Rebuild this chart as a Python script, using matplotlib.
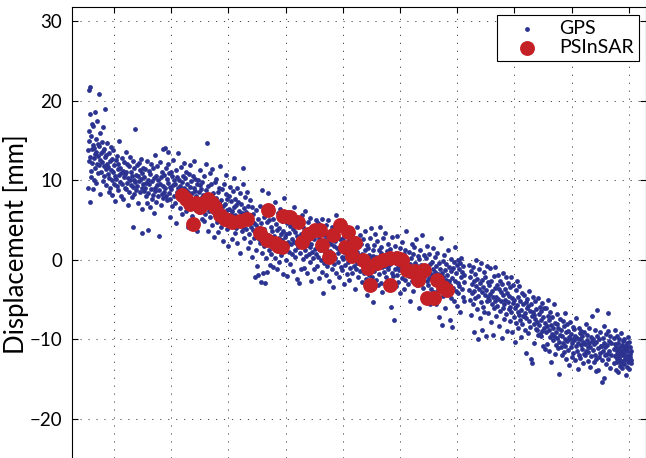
import numpy as np
import matplotlib
matplotlib.use("Agg")
import matplotlib.pyplot as plt

plt.rcParams['font.family'] = ['Lato', 'DejaVu Sans']

# GPS daily solutions: (day since start, displacement mm)
gps_seg1 = [(0,13.8),(2,9.1),(4,16.2),(5,21.4),(7,12.5),(9,14.9),(11,7.3),(12,18.4),(14,13.0),(16,21.8),(18,11.2),(20,15.6),(22,10.4),(24,13.9),(26,17.1),(28,12.2),(30,8.9),(32,14.4),(34,16.8),(36,12.8),(38,10.1),(41,14.1),(43,18.6),(45,13.3),(47,11.5),(50,15.2),(52,9.7),(54,13.6),(57,12.0),(59,17.5),(62,14.6),(64,10.9),(66,13.1),(69,11.9),(71,20.9),(73,14.3),(76,12.6),(78,8.3),(80,15.9),(83,13.4),(85,11.1),(88,14.8),(90,12.3),(93,9.9),(95,16.7),(98,13.7),(100,11.8),(103,14.0),(105,10.6),(108,12.9),(111,19.0),(113,11.4),(116,13.2),(118,9.4),(121,12.1),(124,14.7),(126,10.8),(129,11.7),(132,8.6),(134,13.5),(137,10.3),(140,12.4),(143,9.0),(145,11.3),(148,14.2),(151,10.0),(154,12.7),(156,8.2),(159,11.0),(162,13.8),(165,9.6),(168,11.9),(171,10.5),(174,7.4),(177,12.6),(180,10.2),(183,13.1),(186,9.3),(189,11.4),(192,8.8),(195,12.0),(198,10.7),(201,14.9),(204,9.8),(207,11.6),(210,8.1),(213,10.9),(216,12.8),(219,9.5),(222,11.2),(225,7.7),(228,10.4),(231,12.3),(234,9.1),(237,10.8),(240,13.6),(243,8.9),(246,11.0),(249,9.7),(252,12.1),(255,6.9),(258,10.3),(261,11.8),(264,8.6),(267,10.1),(270,12.9),(273,9.4),(276,11.1),(279,7.9),(282,10.6),(285,9.2),(287,4.1),(288,12.4),(291,10.0),(294,8.3),(297,11.5),(300,9.8),(303,16.4),(306,10.7),(309,8.8),(312,11.9),(315,9.3),(318,10.5),(321,7.2),(324,12.2),(327,9.9),(330,11.3),(333,8.5),(336,10.2),(339,12.7),(342,9.0),(345,3.4),(346,10.9),(348,6.4),(351,9.6),(354,11.6),(357,8.7),(360,10.4),(363,9.1)]
gps_seg2 = [(366,11.4),(369,8.0),(372,9.7),(375,12.5),(378,7.1),(381,10.1),(383,3.8),(386,8.4),(389,11.2),(392,9.5),(395,6.6),(398,10.8),(401,8.9),(404,12.0),(407,7.6),(410,9.9),(413,11.5),(416,8.2),(419,10.3),(422,5.9),(425,9.1),(428,13.2),(431,8.7),(434,10.6),(437,7.3),(440,9.4),(443,11.8),(446,8.1),(449,10.0),(452,3.0),(455,8.8),(458,12.3),(461,9.6),(464,6.9),(467,10.4),(470,8.3),(473,11.1),(476,7.8),(479,9.3),(482,13.9),(485,8.6),(488,10.7),(491,14.1),(494,9.0),(497,11.6),(500,8.0),(503,10.2),(506,7.5),(509,9.7),(510,13.6),(512,12.1),(515,8.4),(518,10.9),(521,5.4),(524,9.2),(527,7.7),(530,11.0),(533,8.9),(536,10.5),(539,6.8),(542,9.4),(545,12.6),(548,8.1),(551,10.0),(554,7.2),(557,9.6),(560,11.3),(563,4.6),(566,8.5),(569,10.4),(572,7.9),(575,9.1),(578,13.4),(581,8.3),(584,10.1),(587,6.5),(590,9.3),(593,11.7),(596,8.0),(599,9.8),(602,5.8),(605,10.6),(608,7.6),(611,9.0),(614,12.2),(617,8.2),(620,10.3),(623,6.1),(626,8.8),(629,11.0),(632,7.4),(635,9.5),(638,4.2),(641,8.6),(644,10.8),(647,7.1),(650,9.2),(653,11.9),(656,7.8),(659,9.9),(662,5.5),(665,8.4),(668,10.5),(671,6.9),(674,9.0),(677,12.4),(680,7.5),(683,8.7),(686,10.2),(689,6.3),(692,8.1),(695,9.6),(698,3.6),(701,7.7),(704,10.0),(707,8.5),(710,6.0),(713,9.4),(716,11.3),(719,7.3),(722,8.9),(725,5.2),(728,7.9)]
gps_seg3 = [(731,9.8),(734,6.4),(737,8.2),(740,4.9),(743,10.6),(746,7.0),(749,5.8),(752,8.8),(755,12.1),(758,6.6),(759,14.7),(762,7.9),(765,3.7),(768,9.3),(771,6.2),(774,8.0),(777,10.9),(780,5.4),(783,7.6),(786,9.5),(789,4.4),(792,7.1),(795,11.4),(798,6.0),(801,8.4),(804,2.9),(807,7.3),(810,9.8),(813,5.6),(816,7.8),(819,10.2),(822,4.8),(825,6.9),(828,8.6),(831,3.5),(834,7.2),(837,9.1),(840,5.3),(843,6.7),(846,11.8),(849,4.1),(852,7.5),(855,8.9),(858,5.9),(861,2.4),(864,6.8),(867,9.6),(870,4.6),(873,7.0),(876,5.5),(879,8.3),(882,10.7),(885,3.9),(888,6.3),(891,7.7),(894,1.8),(897,5.1),(900,8.1),(903,6.4),(906,4.3),(909,9.2),(912,5.8),(915,7.4),(918,2.6),(921,6.1),(924,8.7),(927,4.9),(930,6.6),(933,10.3),(936,3.4),(939,5.7),(942,7.6),(945,4.0),(948,6.9),(951,9.0),(954,2.1),(957,5.2),(960,7.3),(963,4.5),(966,6.2),(969,8.4),(972,0.9),(975,5.6),(978,7.0),(981,3.7),(984,5.9),(987,9.5),(989,11.6),(992,4.2),(995,6.5),(998,2.8),(1001,5.3),(1004,7.9),(1007,3.9),(1010,6.0),(1013,4.7),(1016,8.6),(1019,1.5),(1022,5.0),(1025,6.8),(1028,3.2),(1031,4.9),(1034,7.5),(1037,2.3),(1040,5.5),(1043,4.1),(1046,6.7),(1049,0.4),(1052,3.8),(1055,5.8),(1058,2.7),(1061,4.6),(1064,-2.2),(1067,3.5),(1070,6.3),(1073,1.2),(1076,4.4),(1079,-0.8),(1082,3.0),(1085,5.1),(1088,-1.9),(1091,2.6),(1094,4.0)]
gps_seg4 = [(1097,6.8),(1100,2.1),(1103,-2.8),(1106,4.6),(1109,0.9),(1112,8.8),(1115,3.3),(1118,-1.6),(1121,5.4),(1124,1.7),(1127,3.9),(1130,-2.9),(1133,6.1),(1136,2.4),(1139,0.2),(1142,4.8),(1145,-1.5),(1148,3.1),(1151,8.4),(1154,1.3),(1157,5.0),(1160,-0.6),(1163,2.8),(1166,4.2),(1169,0.7),(1172,6.6),(1175,2.0),(1178,3.6),(1181,-0.9),(1184,5.2),(1187,1.5),(1190,3.0),(1193,7.3),(1196,0.3),(1199,4.5),(1202,2.2),(1205,-1.2),(1208,3.8),(1211,5.9),(1214,1.1),(1217,2.7),(1220,4.0),(1223,-0.3),(1226,6.4),(1229,1.9),(1232,3.3),(1235,0.6),(1238,4.9),(1241,2.5),(1244,-1.8),(1247,3.6),(1250,7.8),(1253,1.4),(1256,2.9),(1259,5.5),(1262,0.0),(1265,3.2),(1268,1.7),(1271,4.6),(1274,-2.0),(1277,2.3),(1280,6.0),(1283,1.0),(1286,3.4),(1289,-0.5),(1292,4.3),(1295,2.0),(1298,5.8),(1301,0.8),(1304,2.6),(1307,3.9),(1310,-1.4),(1313,2.2),(1316,6.7),(1319,1.2),(1322,3.5),(1325,0.4),(1328,4.4),(1331,2.1),(1334,-2.4),(1337,3.0),(1340,5.1),(1343,1.6),(1346,-2.9),(1349,2.8),(1352,4.7),(1355,0.9),(1358,-1.2),(1361,3.3),(1364,1.8),(1367,5.6),(1370,0.1),(1373,2.5),(1376,4.1),(1379,-1.0),(1382,2.9),(1385,1.3),(1388,6.2),(1391,0.5),(1394,3.7),(1397,1.9),(1400,-1.7),(1403,2.4),(1406,4.8),(1409,0.7),(1412,3.1),(1415,-0.2),(1418,1.6),(1421,5.3),(1424,2.0),(1427,-2.6),(1430,3.4),(1433,1.0),(1436,4.2),(1439,0.3),(1442,2.6),(1445,-1.1),(1448,3.8),(1451,1.4),(1454,5.0),(1457,0.8)]
gps_seg5 = [(1460,3.5),(1463,-0.8),(1466,1.9),(1469,4.6),(1472,0.4),(1475,2.7),(1478,-2.3),(1481,1.2),(1484,3.9),(1487,0.0),(1490,2.2),(1493,5.2),(1496,-1.5),(1499,-4.2),(1502,1.6),(1505,3.1),(1508,-0.4),(1511,2.5),(1514,0.9),(1517,4.4),(1520,-1.9),(1523,1.4),(1526,3.0),(1529,-0.7),(1532,5.0),(1535,0.6),(1538,2.3),(1541,-2.7),(1544,1.1),(1547,3.6),(1550,0.2),(1553,2.0),(1556,-1.2),(1559,4.1),(1562,0.8),(1565,-3.4),(1568,1.7),(1571,3.3),(1574,-0.5),(1577,2.4),(1580,0.3),(1583,5.6),(1586,-1.6),(1589,1.5),(1592,2.9),(1595,-0.2),(1598,0.9),(1601,3.8),(1604,-2.2),(1607,1.2),(1610,2.6),(1613,-0.9),(1616,4.5),(1619,0.4),(1622,1.9),(1625,-1.3),(1628,2.7),(1631,0.1),(1634,-3.0),(1637,1.0),(1640,3.4),(1643,-0.6),(1646,2.1),(1649,0.5),(1652,-1.8),(1655,4.0),(1658,1.3),(1661,-0.3),(1664,2.5),(1667,-2.5),(1670,0.7),(1673,3.0),(1676,-1.0),(1679,1.6),(1682,0.0),(1685,3.8),(1688,-1.7),(1691,0.9),(1694,2.3),(1697,-0.8),(1700,1.4),(1703,-3.6),(1706,0.2),(1709,2.8),(1712,-1.1),(1715,1.0),(1718,4.2),(1721,-0.4),(1724,0.6),(1727,-2.1),(1730,1.8),(1733,-0.1),(1736,3.1),(1739,-1.4),(1742,0.4),(1745,2.0),(1748,-2.8),(1751,0.8),(1754,-0.5),(1757,2.6),(1760,-1.6),(1763,0.3),(1766,3.6),(1769,-0.9),(1772,1.2),(1775,-2.4),(1778,0.0),(1781,1.9),(1784,-4.4),(1787,-0.6),(1790,1.5),(1793,-1.9),(1796,0.6),(1799,2.8),(1802,-1.2),(1805,0.2),(1808,4.0),(1811,-2.2),(1814,-0.3),(1817,1.3),(1820,-5.3),(1823,0.5)]
gps_seg6 = [(1826,-1.4),(1829,1.9),(1832,-0.6),(1835,3.2),(1838,-2.5),(1841,0.4),(1844,-1.0),(1847,2.4),(1850,-3.1),(1853,0.0),(1856,1.3),(1859,-1.8),(1862,4.1),(1865,-0.4),(1868,0.9),(1871,-2.9),(1874,1.6),(1877,-0.9),(1880,-4.0),(1883,0.6),(1886,2.7),(1889,-1.5),(1892,0.2),(1895,-0.7),(1898,3.4),(1901,-2.2),(1904,-0.2),(1907,1.1),(1910,-3.5),(1913,-0.8),(1916,2.0),(1919,-1.2),(1922,0.5),(1925,-2.6),(1928,1.4),(1931,-0.5),(1934,-5.9),(1937,0.8),(1940,-1.6),(1943,2.9),(1946,-0.1),(1949,-2.0),(1952,-7.5),(1955,0.3),(1958,-1.1),(1961,1.7),(1964,-3.3),(1967,-0.4),(1970,0.9),(1973,-1.9),(1976,3.0),(1979,-0.9),(1982,-2.8),(1985,0.6),(1988,-1.3),(1991,1.5),(1994,-4.1),(1997,-0.6),(2000,0.4),(2003,-2.3),(2006,2.2),(2009,-1.0),(2012,-0.2),(2015,-3.6),(2018,0.7),(2021,-1.5),(2024,1.2),(2027,-2.5),(2030,-0.8),(2033,3.6),(2036,-1.8),(2039,0.0),(2042,-3.0),(2045,-1.2),(2048,1.0),(2051,-2.0),(2054,-0.5),(2057,-5.2),(2060,0.3),(2063,-1.6),(2066,2.0),(2069,-2.7),(2072,-0.9),(2075,0.8),(2078,-3.9),(2081,-1.3),(2084,1.6),(2087,-2.2),(2090,-0.4),(2093,-1.0),(2096,2.6),(2099,-3.2),(2102,-0.7),(2105,0.5),(2108,-2.4),(2111,-1.1),(2114,-6.0),(2117,0.1),(2120,-1.9),(2123,1.3),(2126,-2.9),(2129,-0.6),(2132,-1.5),(2135,3.1),(2138,-3.5),(2141,-0.8),(2144,0.6),(2147,-2.1),(2150,-1.3),(2153,-4.6),(2156,0.2),(2159,-1.7),(2162,-2.6),(2165,1.8),(2168,-0.9),(2171,-3.1),(2174,-1.4),(2177,0.7),(2180,-2.3),(2183,-5.5),(2186,-0.5),(2189,-1.8)]
gps_seg7 = [(2192,-3.6),(2195,-0.2),(2198,-2.4),(2201,1.5),(2204,-1.2),(2207,-4.0),(2210,-2.0),(2213,0.4),(2216,-3.0),(2219,-1.5),(2222,-5.6),(2225,-0.7),(2228,-2.6),(2231,0.9),(2234,-3.8),(2237,-1.8),(2240,-7.2),(2243,-0.4),(2246,-2.9),(2249,-1.1),(2252,2.8),(2255,-3.4),(2258,-8.2),(2261,-1.6),(2264,-0.1),(2267,-4.5),(2270,-2.2),(2273,0.6),(2276,-3.1),(2279,-1.3),(2282,-6.1),(2285,-2.5),(2288,-0.5),(2291,-3.7),(2294,-1.9),(2297,1.2),(2300,-4.3),(2303,-2.7),(2306,-0.9),(2309,-7.6),(2312,-3.2),(2315,-1.4),(2318,0.1),(2321,-4.8),(2324,-2.3),(2327,-8.4),(2330,-1.0),(2333,-3.5),(2336,-5.2),(2339,-0.3),(2342,-2.6),(2345,1.6),(2348,-3.9),(2351,-1.7),(2354,-5.8),(2357,-0.6),(2360,-2.9),(2363,0.0),(2366,-4.1),(2369,-1.2),(2372,-3.3),(2375,-0.4),(2378,-6.6),(2381,-2.1),(2384,0.3),(2387,-3.6),(2390,-1.5),(2393,-4.7),(2396,-0.8),(2399,-2.8),(2402,-5.1),(2404,-1.9),(2432,-0.6),(2435,-3.8),(2438,-5.0),(2441,-2.2),(2444,-6.9),(2447,-1.4),(2450,-4.2),(2453,-3.0),(2456,-0.9),(2459,-5.6),(2462,-2.6),(2465,-9.1),(2468,-3.9),(2471,-1.8),(2474,-4.8),(2477,0.0),(2480,-3.3),(2483,-6.2),(2486,-2.4),(2489,-10.0),(2492,-4.5),(2495,-1.2),(2498,-3.6),(2501,-7.3),(2504,-2.9),(2507,-5.3),(2510,-0.4),(2513,-4.0),(2516,-8.8),(2519,-2.5),(2522,-5.9),(2525,-3.4),(2528,-1.5),(2531,-6.5),(2534,-4.4),(2537,-2.1),(2540,-9.6),(2543,-3.8),(2546,-5.1),(2549,-0.8),(2552,-4.7),(2555,-2.8)]
gps_seg8 = [(2557,-6.7),(2560,-3.1),(2563,-5.0),(2566,-1.0),(2569,-4.3),(2572,-7.8),(2575,-2.6),(2578,-5.5),(2581,-3.9),(2584,-9.4),(2587,-4.7),(2590,-2.0),(2593,-6.1),(2596,-3.5),(2599,-5.2),(2602,-0.9),(2605,-4.6),(2608,-7.0),(2611,-3.2),(2614,-5.8),(2617,-1.9),(2620,-4.9),(2623,-8.3),(2626,-3.7),(2629,-6.4),(2632,-2.7),(2635,-5.1),(2638,-4.0),(2641,-9.8),(2644,-3.0),(2647,-6.0),(2650,-4.4),(2653,-1.6),(2656,-5.6),(2659,-7.4),(2662,-3.6),(2665,-5.0),(2668,-2.2),(2671,-6.8),(2674,-4.1),(2677,-8.9),(2680,-5.3),(2683,-2.9),(2686,-6.2),(2689,-4.5),(2692,-7.7),(2695,-3.4),(2698,-5.9),(2701,-2.1),(2704,-6.6),(2707,-4.8),(2710,-9.1),(2713,-5.4),(2716,-3.1),(2719,-7.2),(2722,-5.0),(2725,-10.3),(2728,-6.0),(2731,-3.8),(2734,-7.9),(2737,-5.7),(2740,-2.6),(2743,-6.5),(2746,-8.5),(2749,-4.7),(2752,-6.9),(2755,-3.3),(2758,-7.5),(2761,-5.2),(2764,-9.7),(2767,-6.3),(2770,-4.2),(2773,-8.1),(2776,-5.6),(2779,-7.0),(2782,-7.0),(2785,-4.4),(2788,-6.7),(2791,-8.8),(2794,-5.3),(2797,-11.7),(2800,-7.3),(2803,-4.9),(2806,-6.1),(2809,-9.2),(2812,-5.8),(2815,-7.7),(2818,-3.9),(2821,-6.4),(2824,-8.4),(2827,-12.4),(2830,-5.5),(2833,-7.1),(2836,-13.0),(2839,-6.6),(2842,-4.6),(2845,-8.0),(2848,-6.9),(2851,-10.5),(2854,-7.4),(2857,-5.2),(2860,-8.7),(2863,-6.2),(2866,-8.8),(2869,-7.8),(2872,-4.8),(2875,-9.4),(2878,-6.8),(2881,-8.2),(2884,-5.9),(2887,-9.3),(2890,-7.6),(2893,-9.6),(2896,-6.4),(2899,-8.9),(2902,-5.4),(2905,-10.8),(2908,-7.2),(2911,-8.5),(2914,-6.0),(2917,-11.2),(2920,-7.9)]
gps_seg9 = [(2923,-9.0),(2926,-6.1),(2929,-8.3),(2932,-10.6),(2935,-7.0),(2938,-5.0),(2941,-8.8),(2944,-11.4),(2947,-7.5),(2950,-9.7),(2953,-6.6),(2956,-8.2),(2959,-12.8),(2962,-9.3),(2965,-7.2),(2968,-10.1),(2971,-8.6),(2974,-5.6),(2977,-9.5),(2980,-11.8),(2983,-7.9),(2986,-9.0),(2989,-10.7),(2992,-8.1),(2995,-6.8),(2998,-9.8),(3001,-11.1),(3004,-8.5),(3007,-10.3),(3010,-14.3),(3013,-9.4),(3016,-7.4),(3019,-10.9),(3022,-8.8),(3025,-12.0),(3028,-9.6),(3031,-7.7),(3034,-10.4),(3037,-11.6),(3040,-8.3),(3043,-9.9),(3046,-6.7),(3049,-10.8),(3052,-12.5),(3055,-9.1),(3058,-8.0),(3061,-10.2),(3064,-11.3),(3067,-8.9),(3070,-9.7),(3073,-13.2),(3076,-10.0),(3079,-7.8),(3082,-11.0),(3085,-9.3),(3088,-12.2),(3091,-10.5),(3094,-8.4),(3097,-9.9),(3100,-11.7),(3103,-10.1),(3106,-8.7),(3109,-12.6),(3112,-9.5),(3115,-10.8),(3118,-7.3),(3121,-11.4),(3124,-9.8),(3127,-13.7),(3130,-10.4),(3133,-8.6),(3136,-11.9),(3139,-10.0),(3142,-9.2),(3145,-12.3),(3148,-10.7),(3151,-8.9),(3154,-11.2),(3157,-9.6),(3160,-13.0),(3163,-10.3),(3166,-11.8),(3169,-9.0),(3172,-12.0),(3175,-10.6),(3178,-8.1),(3181,-11.5),(3184,-10.1),(3187,-9.4),(3190,-12.7),(3193,-10.9),(3196,-11.6),(3199,-8.5),(3202,-10.4),(3205,-13.4),(3208,-11.0),(3211,-9.7),(3214,-12.1),(3217,-10.2),(3220,-7.0),(3223,-11.3),(3226,-9.9),(3229,-12.8),(3232,-10.6),(3235,-8.8),(3238,-11.9),(3241,-14.0),(3244,-10.3),(3247,-12.4),(3250,-9.5),(3253,-6.3),(3256,-11.1),(3259,-13.8),(3262,-10.0),(3265,-12.2),(3268,-9.1),(3271,-11.7),(3274,-10.8),(3277,-10.8),(3280,-15.3),(3283,-12.6),(3286,-9.8),(3289,-11.4),(3292,-14.9),(3295,-10.5),(3298,-8.3),(3301,-12.0),(3304,-11.0),(3307,-9.3),(3310,-13.1),(3313,-10.7),(3316,-11.8),(3318,-6.7),(3319,-8.9),(3322,-12.5),(3325,-10.2),(3328,-11.5),(3331,-13.6),(3334,-9.6),(3337,-11.9),(3340,-10.4)]
gps_seg10 = [(3357,-11.2),(3359,-13.0),(3361,-9.8),(3363,-12.1),(3365,-10.6),(3367,-8.8),(3369,-11.9),(3371,-13.8),(3373,-10.9),(3375,-12.4),(3377,-11.5),(3379,-9.5),(3381,-12.8),(3383,-10.4),(3385,-11.7),(3387,-14.1),(3389,-12.2),(3391,-10.0),(3393,-11.3),(3395,-13.3),(3397,-11.0),(3399,-12.6),(3401,-9.2),(3403,-11.8),(3405,-12.9),(3407,-10.7),(3409,-11.4),(3411,-13.6),(3413,-12.0),(3415,-10.2),(3417,-11.6),(3419,-12.7),(3421,-9.9),(3423,-11.1),(3425,-13.1),(3427,-12.3),(3429,-10.8),(3431,-11.9),(3433,-14.5),(3435,-12.5),(3437,-11.3),(3439,-10.5),(3441,-12.1),(3443,-13.4),(3445,-11.5),(3447,-9.7),(3449,-12.8),(3451,-11.0),(3453,-12.4),(3455,-10.3),(3457,-13.7),(3459,-11.8),(3461,-12.2),(3463,-10.9),(3465,-12.6),(3467,-11.4),(3469,-13.0)]

# PSInSAR points: (day since start, displacement mm)
psinsar = [(600,8.2),(625,7.7),(651,7.0),(670,4.5),(689,7.2),(715,6.7),(740,7.2),(766,7.7),(791,7.2),(810,6.7),(842,5.7),(874,5.2),(895,5.0),(919,4.8),(970,4.9),(1014,5.2),(1097,3.4),(1142,2.5),(1148,6.3),(1193,2.1),(1215,1.8),(1238,1.6),(1244,5.5),(1289,5.4),(1340,4.8),(1365,2.3),(1404,3.3),(1448,3.8),(1480,3.8),(1493,1.9),(1538,0.4),(1563,3.1),(1608,4.4),(1640,1.6),(1659,3.5),(1684,0.5),(1703,2.1),(1755,0.0),(1786,-1.0),(1799,-3.1),(1844,-0.4),(1882,0.0),(1927,0.3),(1927,-3.1),(1971,0.3),(1990,0.1),(2003,0.0),(2035,-1.3),(2073,-1.5),(2090,-1.4),(2105,-2.5),(2118,-1.6),(2144,-1.3),(2163,-4.8),(2207,-4.8),(2227,-2.5),(2265,-3.4),(2290,-3.8)]

start_year = 1999.545
year_ticks = list(range(2000, 2010))
y_ticks = [-20, -10, 0, 10, 20, 30]

gps = np.array(gps_seg1 + gps_seg2 + gps_seg3 + gps_seg4 + gps_seg5 +
               gps_seg6 + gps_seg7 + gps_seg8 + gps_seg9 + gps_seg10)
ps = np.array(psinsar)

fig = plt.figure(figsize=(6.46, 4.58), dpi=100)
ax = fig.add_axes([72/646, 0, 573.5/646, 451/458])

ax.scatter(start_year + gps[:, 0]/365.25, gps[:, 1], s=12, c='#2B3290',
           linewidths=0, label='GPS', zorder=2)
ax.scatter(start_year + ps[:, 0]/365.25, ps[:, 1], s=115, c='#C42127',
           linewidths=0, label='PSInSAR', zorder=3)

ax.set_xlim(1999.266, 2009.292)
ax.set_ylim(-24.9, 31.8)
ax.set_xticks(year_ticks)
ax.set_yticks(y_ticks)
ax.tick_params(direction='in', length=4.5, width=0.8, top=True, right=True,
               bottom=False, labelbottom=False, labelsize=13.5, pad=7)
ax.spines['bottom'].set_visible(False)
for s in ['left', 'top', 'right']:
    ax.spines[s].set_linewidth(0.8)

ax.grid(True, color='#444444', linestyle=(0, (1.2, 7)), linewidth=0.7)
ax.set_axisbelow(True)

ax.set_ylabel('Displacement [mm]', fontsize=18.5)
ax.yaxis.set_label_coords(-0.075, 0.4745)

leg = ax.legend(loc='upper right', bbox_to_anchor=(639/646, 1 - 15/458),
                bbox_transform=fig.transFigure, borderaxespad=0,
                fontsize=14, frameon=True, fancybox=False, framealpha=1,
                edgecolor='black', borderpad=0.25, labelspacing=0.12,
                handlelength=2.6, handletextpad=0.35, scatterpoints=1)
leg.get_frame().set_linewidth(0.8)

fig.savefig('out.png', dpi=100)
